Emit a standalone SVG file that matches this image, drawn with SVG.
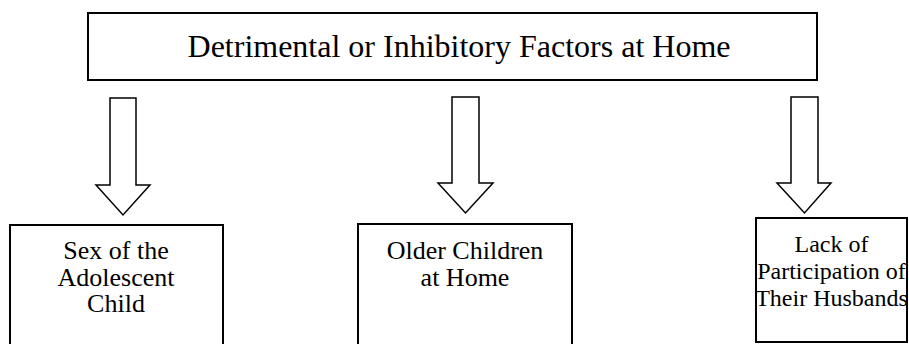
<svg xmlns="http://www.w3.org/2000/svg" width="909" height="344" viewBox="0 0 909 344">
<style>
.box{fill:#fff;stroke:#000;stroke-width:2}
.arr{fill:#fff;stroke:#000;stroke-width:1.5;stroke-linejoin:miter}
text{font-family:"Liberation Serif","Times New Roman",serif;fill:#000;text-anchor:middle}
.t{font-size:32px}
.s{font-size:26px}
.s3{font-size:24px}
</style>
<rect width="909" height="344" fill="#fff"/>
<g id="top">
<rect class="box" x="88" y="13" width="729" height="67"/>
<text class="t" x="459" y="57">Detrimental or Inhibitory Factors at Home</text>
</g>
<g id="connectors">
<polygon class="arr" points="110,98 136,98 136,185 150,185 123,215 96,185 110,185"/>
<polygon class="arr" points="452,97 479,97 479,183 493,183 465.5,213 438,183 452,183"/>
<polygon class="arr" points="791,97 818,97 818,183 831,183 804.5,213 777,183 791,183"/>
</g>
<g id="n1">
<rect class="box" x="10" y="225" width="213" height="130"/>
<text class="s" x="116" y="259">Sex of the</text>
<text class="s" x="116" y="285.5">Adolescent</text>
<text class="s" x="116" y="312">Child</text>
</g>
<g id="n2">
<rect class="box" x="358" y="224" width="214" height="130"/>
<text class="s" x="465" y="259">Older Children</text>
<text class="s" x="465" y="285.5">at Home</text>
</g>
<g id="n3">
<rect class="box" x="756" y="218" width="151" height="124"/>
<text class="s3" x="831.5" y="252">Lack of</text>
<text class="s3" x="831.5" y="279">Participation of</text>
<text class="s3" x="831.5" y="306">Their Husbands</text>
</g>
</svg>
